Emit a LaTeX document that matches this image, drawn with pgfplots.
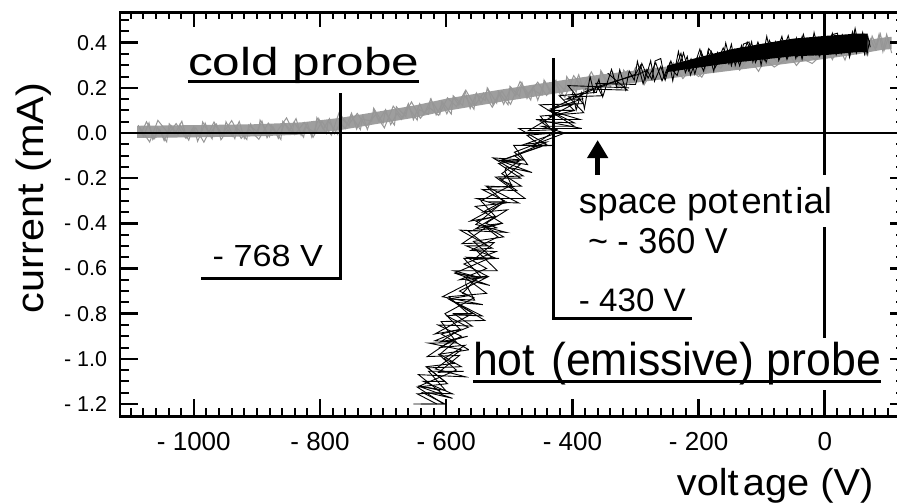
\documentclass[border=0pt]{standalone}
\usepackage{pgfplots}
\pgfplotsset{compat=1.18}
\usepackage{fontspec}
\setmainfont{Liberation Sans}
\usepackage{graphicx}
\usetikzlibrary{arrows.meta}

\definecolor{coldgray}{RGB}{150,150,150}
\definecolor{coldfill}{RGB}{158,158,158}
\newcommand\fs[1]{\fontsize{#1bp}{#1bp}\selectfont}

\begin{document}
\begin{tikzpicture}
\begin{axis}[
  scale only axis, width=779.9bp, height=403.8bp,
  xmin=-1117, xmax=119, ymin=-1.2545, ymax=0.5337,
  at={(0,0)}, anchor=south west,
  axis line style={line width=2.5bp},
  tick style={draw=none},
  xtick={-1000,-800,-600,-400,-200,0},
  xticklabels={- 1000,- 800,- 600,- 400,- 200,0},
  ytick={-1.2,-1.0,-0.8,-0.6,-0.4,-0.2,0,0.2,0.4},
  yticklabels={- 1.2,- 1.0,- 0.8,- 0.6,- 0.4,- 0.2,0.0,0.2,0.4},
  xticklabel style={font=\fs{26}, inner sep=0pt, yshift=-15.4bp},
  yticklabel style={font=\fs{21.5}, inner sep=0pt, xshift=-12.7bp},
  xlabel={\scalebox{1.06}[1]{volt\kern4bp age (V)}},
  xlabel style={font=\fs{37.5}, at={(axis description cs:0.84,-0.195)}, anchor=base, inner sep=0pt},
  ylabel={\scalebox{1.09}[1]{current (mA)}},
  ylabel style={font=\fs{38}, at={(axis description cs:-0.0983,0.5406)}, anchor=base, inner sep=0pt},
]

% ---- cold probe: body of the trace band
\addplot[draw=none, fill=coldfill] coordinates {
  (-1090,0.032) (-1000,0.035) (-900,0.039) (-830,0.047) (-768,0.067) (-725,0.087)
  (-650,0.122) (-600,0.152) (-514,0.192) (-420,0.232) (-360,0.257) (-300,0.277)
  (-200,0.312) (-100,0.347) (0,0.382) (50,0.402) (90,0.422) (106,0.426)
  (106,0.372) (90,0.368) (50,0.348) (0,0.328) (-100,0.293) (-200,0.258)
  (-300,0.223) (-360,0.203) (-420,0.178) (-514,0.138) (-600,0.098) (-650,0.068)
  (-725,0.033) (-768,0.013) (-830,-0.007) (-900,-0.015) (-1000,-0.019) (-1090,-0.022)
} -- cycle;

% ---- cold probe: sweep 1
\addplot[coldgray, line width=1bp] coordinates {
  (-1088,0.035) (-1080,-0.015) (-1071,0.045) (-1065,-0.029) (-1054,0.016) (-1047,-0.034)
  (-1036,0.032) (-1030,-0.003) (-1019,0.052) (-1011,-0.022) (-1000,0.028) (-994,-0.037)
  (-982,0.044) (-975,-0.006) (-964,0.039) (-957,-0.030) (-946,0.015) (-939,-0.015)
  (-928,0.051) (-920,-0.024) (-910,0.041) (-903,-0.008) (-892,0.053) (-884,-0.021)
  (-874,0.025) (-866,-0.024) (-856,0.042) (-849,0.008) (-838,0.064) (-830,-0.010)
  (-820,0.043) (-813,-0.019) (-802,0.064) (-795,0.016) (-785,0.064) (-777,-0.003)
  (-768,0.045) (-760,0.019) (-750,0.088) (-742,0.017) (-732,0.077) (-725,0.015)
  (-714,0.100) (-707,0.053) (-696,0.104) (-688,0.037) (-678,0.087) (-671,0.060)
  (-660,0.130) (-652,0.059) (-642,0.130) (-635,0.084) (-624,0.151) (-616,0.080)
  (-606,0.131) (-599,0.085) (-588,0.156) (-580,0.124) (-570,0.184) (-562,0.108)
  (-552,0.177) (-545,0.131) (-534,0.196) (-526,0.125) (-516,0.174) (-509,0.127)
  (-498,0.197) (-490,0.165) (-480,0.224) (-472,0.153) (-462,0.207) (-455,0.145)
  (-444,0.230) (-436,0.183) (-426,0.233) (-419,0.165) (-408,0.215) (-400,0.188)
  (-390,0.258) (-382,0.186) (-372,0.245) (-365,0.183) (-354,0.267) (-346,0.220)
  (-336,0.268) (-329,0.200) (-318,0.249) (-310,0.222) (-300,0.290) (-285,0.220)
  (-270,0.290) (-255,0.246) (-240,0.311) (-225,0.241) (-210,0.292) (-195,0.247)
  (-180,0.317) (-165,0.287) (-150,0.348) (-135,0.278) (-120,0.333) (-105,0.273)
  (-90,0.359) (-75,0.314) (-60,0.364) (-45,0.299) (-30,0.350) (-15,0.325)
  (0,0.395) (12,0.325) (22,0.384) (32,0.323) (42,0.407) (52,0.361)
  (60,0.410) (68,0.345) (75,0.429) (82,0.382) (88,0.439) (94,0.366)
  (100,0.418) (106,0.354)
};

% ---- cold probe: sweep 2
\addplot[coldgray, line width=1bp] coordinates {
  (-1084,-0.005) (-1075,0.050) (-1062,-0.024) (-1058,0.026) (-1043,-0.039) (-1039,0.041)
  (-1025,-0.008) (-1022,0.037) (-1008,-0.032) (-1003,0.013) (-990,-0.017) (-986,0.049)
  (-971,-0.026) (-967,0.039) (-953,-0.010) (-949,0.050) (-935,-0.025) (-931,0.021)
  (-916,-0.029) (-913,0.036) (-898,0.002) (-895,0.057) (-880,-0.016) (-877,0.034)
  (-862,-0.029) (-859,0.052) (-844,0.003) (-841,0.048) (-826,-0.019) (-823,0.027)
  (-808,0.002) (-805,0.068) (-790,-0.002) (-787,0.054) (-772,-0.006) (-769,0.075)
  (-754,0.031) (-751,0.078) (-736,0.015) (-733,0.061) (-718,0.053) (-715,0.110)
  (-700,0.042) (-697,0.093) (-682,0.035) (-679,0.116) (-664,0.073) (-661,0.120)
  (-646,0.057) (-643,0.104) (-628,0.083) (-625,0.150) (-610,0.084) (-607,0.141)
  (-592,0.084) (-589,0.165) (-574,0.122) (-571,0.168) (-556,0.105) (-553,0.172)
  (-538,0.144) (-535,0.200) (-520,0.132) (-517,0.184) (-502,0.125) (-499,0.207)
  (-484,0.163) (-481,0.209) (-466,0.146) (-463,0.192) (-448,0.168) (-445,0.235)
  (-430,0.166) (-427,0.232) (-412,0.188) (-409,0.250) (-394,0.181) (-391,0.227)
  (-376,0.183) (-373,0.250) (-358,0.221) (-355,0.277) (-340,0.207) (-337,0.258)
  (-322,0.198) (-319,0.279) (-304,0.234) (-301,0.280) (-286,0.215) (-283,0.261)
  (-260,0.239) (-230,0.315) (-200,0.250) (-170,0.326) (-140,0.286) (-110,0.357)
  (-80,0.292) (-50,0.348) (-20,0.308) (10,0.384) (35,0.359) (55,0.423)
  (65,0.348) (72,0.417) (80,0.371) (86,0.438) (92,0.360) (98,0.437) (104,0.379)
};

% ---- cold probe: sweep 3
\addplot[coldgray, line width=1bp] coordinates {
  (-1086,0.025) (-1070,-0.040) (-1057,0.056) (-1040,-0.003) (-1028,0.042) (-1013,-0.022)
  (-997,0.023) (-984,-0.041) (-968,0.049) (-956,-0.010) (-940,0.055) (-925,-0.024)
  (-912,0.016) (-897,-0.028) (-882,0.044) (-870,0.000) (-853,0.067) (-840,-0.007)
  (-825,0.047) (-811,-0.019) (-797,0.051) (-782,-0.010) (-770,0.089) (-755,0.036)
  (-741,0.087) (-727,0.029) (-712,0.081) (-698,0.023) (-684,0.119) (-669,0.066)
  (-655,0.138) (-641,0.065) (-627,0.114) (-612,0.078) (-598,0.156) (-584,0.117)
  (-569,0.190) (-555,0.121) (-541,0.177) (-527,0.114) (-512,0.186) (-498,0.127)
  (-483,0.228) (-470,0.174) (-455,0.225) (-441,0.166) (-427,0.217) (-412,0.158)
  (-398,0.254) (-384,0.200) (-370,0.271) (-356,0.196) (-342,0.241) (-327,0.201)
  (-313,0.276) (-300,0.235)
};

% ---- hot (emissive) probe: dense saturated part
\addplot[draw=none, fill=black] coordinates {
  (-250,0.298) (-200,0.335) (-150,0.370) (-100,0.395) (-50,0.418) (0,0.430)
  (50,0.440) (68,0.440)
  (68,0.360) (50,0.358) (0,0.345) (-50,0.340) (-100,0.325) (-150,0.310)
  (-200,0.290) (-250,0.270)
} -- cycle;

% ---- hot probe: sweep 1 (rising)
\addplot[black, line width=0.9bp] coordinates {
  (-652,-1.20) (-602,-1.20) (-637,-1.15) (-590,-1.155) (-636,-1.10) (-602,-1.10)
  (-632,-1.035) (-587,-1.02) (-604,-1.00) (-570,-0.94) (-610,-0.95) (-576,-0.90)
  (-613,-0.85) (-559,-0.855) (-588,-0.80) (-557,-0.80) (-596,-0.735) (-564,-0.72)
  (-579,-0.70) (-536,-0.64) (-579,-0.65) (-536,-0.60) (-568,-0.55) (-521,-0.555)
  (-568,-0.50) (-535,-0.50) (-565,-0.435) (-520,-0.42) (-537,-0.40) (-503,-0.34)
  (-542,-0.35) (-508,-0.30) (-543,-0.25) (-488,-0.255) (-516,-0.20) (-482,-0.20)
  (-517,-0.135) (-482,-0.12) (-492,-0.10) (-441,-0.04) (-476,-0.05) (-425,0.00)
  (-450,0.05) (-397,0.045) (-437,0.10) (-397,0.10) (-421,0.165) (-362,0.18)
  (-360,0.20) (-300,0.26)
  (-292,0.300) (-285,0.234) (-276,0.320) (-270,0.229) (-260,0.295) (-253,0.234)
  (-244,0.319) (-238,0.272) (-228,0.353) (-221,0.267) (-212,0.328) (-206,0.261)
  (-196,0.362) (-189,0.306) (-180,0.361) (-174,0.289) (-164,0.345) (-157,0.309)
  (-148,0.393) (-142,0.299) (-132,0.388) (-125,0.321) (-116,0.404) (-110,0.312)
  (-100,0.376) (-93,0.313) (-84,0.397) (-78,0.349) (-68,0.428) (-61,0.340)
  (-52,0.399) (-46,0.330) (-36,0.427) (-29,0.369) (-20,0.420) (-14,0.346)
  (-4,0.398) (3,0.359) (12,0.441) (18,0.347) (28,0.434) (35,0.366)
  (44,0.448) (50,0.354) (58,0.415) (63,0.350) (68,0.430) (72,0.380)
};

% ---- hot probe: sweep 2 (falling)
\addplot[black, line width=0.9bp] coordinates {
  (66,0.360) (60,0.445) (54,0.379) (47,0.448) (40,0.347) (33,0.421)
  (25,0.359) (16,0.432) (8,0.380) (0,0.438) (-9,0.342) (-17,0.405)
  (-26,0.353) (-34,0.437) (-43,0.340) (-51,0.389) (-60,0.326) (-69,0.408)
  (-77,0.345) (-88,0.411) (-96,0.323) (-106,0.403) (-114,0.335) (-123,0.402)
  (-135,0.297) (-143,0.369) (-152,0.306) (-161,0.377) (-170,0.322) (-184,0.374)
  (-192,0.274) (-202,0.333) (-216,0.275) (-224,0.355) (-234,0.255) (-248,0.297)
  (-258,0.231) (-268,0.311) (-280,0.243) (-290,0.308) (-300,0.215)
  (-363,0.22) (-353,0.165) (-406,0.16) (-382,0.09) (-451,0.075) (-429,0.00)
  (-472,-0.01) (-449,-0.06) (-512,-0.12) (-485,-0.125) (-512,-0.18) (-481,-0.235)
  (-535,-0.24) (-506,-0.31) (-554,-0.325) (-511,-0.40) (-541,-0.41) (-518,-0.46)
  (-561,-0.52) (-521,-0.525) (-572,-0.58) (-534,-0.635) (-570,-0.64) (-536,-0.71)
  (-596,-0.725) (-565,-0.80) (-599,-0.81) (-565,-0.86) (-618,-0.92) (-587,-0.925)
  (-610,-0.98) (-576,-1.035) (-629,-1.04) (-598,-1.11) (-646,-1.125) (-604,-1.20)
  (-640,-1.20)
};

% ---- hot probe: sweep 3 (rising)
\addplot[black, line width=0.9bp] coordinates {
  (-610,-1.14) (-642,-1.12) (-584,-1.05) (-612,-0.98) (-564,-0.96) (-608,-0.89)
  (-578,-0.87) (-602,-0.80) (-556,-0.73) (-574,-0.71) (-551,-0.64) (-586,-0.62)
  (-528,-0.55) (-557,-0.48) (-509,-0.46) (-553,-0.39) (-522,-0.37) (-545,-0.30)
  (-496,-0.23) (-512,-0.21) (-483,-0.14) (-512,-0.12) (-441,-0.05) (-485,0.02)
  (-385,0.02) (-458,0.06) (-388,0.06) (-437,0.10) (-386,0.15) (-410,0.15)
  (-355,0.21) (-295,0.26) (-280,0.28)
};

% ---- hot probe: sweep 4 (rising)
\addplot[black, line width=0.9bp] coordinates {
  (-629,-1.150) (-590,-1.175) (-645,-1.120) (-601,-1.140) (-628,-1.055) (-572,-1.055)
  (-612,-1.060) (-579,-0.985) (-630,-0.990) (-593,-0.920) (-566,-0.900) (-609,-0.925)
  (-578,-0.870) (-618,-0.890) (-562,-0.805) (-590,-0.805) (-543,-0.810) (-596,-0.735)
  (-555,-0.740) (-569,-0.670) (-569,-0.650) (-531,-0.675) (-587,-0.620) (-544,-0.640)
  (-572,-0.555) (-516,-0.555) (-556,-0.560) (-524,-0.485) (-575,-0.490) (-538,-0.420)
  (-511,-0.400) (-554,-0.425) (-522,-0.370) (-562,-0.390) (-506,-0.305) (-533,-0.305)
  (-485,-0.310) (-537,-0.235) (-495,-0.240) (-507,-0.170) (-505,-0.150) (-464,-0.175)
  (-517,-0.120) (-471,-0.140) (-493,-0.055) (-430,-0.055) (-464,-0.060) (-425,0.015)
  (-470,0.010) (-428,0.080) (-396,0.100) (-434,0.075) (-397,0.130) (-432,0.110)
  (-365,0.195) (-380,0.195) (-313,0.190) (-344,0.265)
};

% ---- hot probe: sweep 5 (rising, saturated part)
\addplot[black, line width=0.9bp] coordinates {
  (-400,0.180) (-394,0.102) (-386,0.178) (-381,0.108) (-372,0.250) (-366,0.179)
  (-358,0.238) (-352,0.160) (-344,0.230) (-338,0.282) (-330,0.205) (-325,0.280)
  (-316,0.192) (-310,0.275) (-302,0.234) (-297,0.317) (-288,0.218) (-282,0.281)
  (-274,0.236) (-269,0.319) (-260,0.330) (-254,0.243) (-246,0.308) (-241,0.231)
  (-232,0.361) (-226,0.285) (-218,0.339) (-213,0.257) (-204,0.322) (-198,0.371)
  (-190,0.290) (-185,0.363) (-176,0.273) (-170,0.357) (-162,0.316) (-157,0.399)
  (-148,0.298) (-142,0.359) (-134,0.312) (-129,0.394) (-120,0.403) (-114,0.315)
  (-106,0.378) (-101,0.300) (-92,0.428) (-86,0.351) (-78,0.404) (-73,0.321)
  (-64,0.384) (-58,0.431) (-50,0.349) (-45,0.420) (-36,0.327) (-30,0.408)
  (-22,0.365) (-17,0.445) (-8,0.342) (-2,0.403) (6,0.354) (11,0.435)
  (20,0.442) (26,0.353) (34,0.415) (39,0.336) (48,0.463) (54,0.384)
  (62,0.435) (67,0.350) (71,0.410)
};

% ---- hot probe: sweep 6 (falling)
\addplot[black, line width=0.9bp] coordinates {
  (-310,0.20) (-407,0.21) (-383,0.13) (-452,0.125) (-397,0.03) (-449,0.03)
  (-412,0.00) (-492,-0.085) (-477,-0.12) (-526,-0.11) (-478,-0.19) (-522,-0.195)
  (-475,-0.29) (-552,-0.29) (-516,-0.32) (-553,-0.405) (-505,-0.44) (-578,-0.43)
  (-527,-0.51) (-554,-0.515) (-519,-0.61) (-588,-0.61) (-547,-0.64) (-606,-0.725)
  (-542,-0.76) (-585,-0.75) (-539,-0.83) (-608,-0.835) (-583,-0.93) (-628,-0.93)
  (-576,-0.96) (-617,-1.045) (-569,-1.08) (-644,-1.07) (-608,-1.15) (-646,-1.155)
  (-615,-1.20)
};

% ---- zero lines and floating-potential markers
\draw[line width=2.7bp] (axis cs:-1117,0) -- (axis cs:119,0);
\draw[line width=2.7bp] (axis cs:0,-1.2545) -- (axis cs:0,0.5337);
\draw[line width=2.7bp] (axis cs:-768,0.177) -- (axis cs:-768,-0.643) -- (axis cs:-988,-0.643);
\draw[line width=2.7bp] (axis cs:-430,0.331) -- (axis cs:-430,-0.821) -- (axis cs:-211,-0.821);
\draw[line width=5bp, -{Triangle[length=18bp,width=20bp]}] (axis cs:-360,-0.239) -- (axis cs:-360,-0.031);

% ---- annotations
\fill[white] (axis cs:-396.2,-0.186) rectangle (axis cs:19.0,-0.416);
\fill[white] (axis cs:-564.2,-0.908) rectangle (axis cs:95.1,-1.138);

\node[anchor=base west, inner sep=0pt, font=\fs{39}] at (axis cs:-1009.5,0.2569)
  {\scalebox{1.27}[1]{cold probe}};
\draw[line width=3bp] (axis cs:-1009.5,0.2272) -- (axis cs:-643.4,0.2272);

\node[anchor=base west, inner sep=0pt, font=\fs{46}] at (axis cs:-557.8,-1.0717)
  {\scalebox{0.97}[1]{hot\kern4bp\ (emissive) probe}};
\draw[line width=3bp] (axis cs:-557.8,-1.0983) -- (axis cs:89.5,-1.0983);

\node[anchor=base west, inner sep=0pt, font=\fs{36}] at (axis cs:-389.9,-0.3543)
  {\scalebox{1.02}[1]{space pot\kern3bp ent\kern3bp ial}};
\node[anchor=base west, inner sep=0pt, font=\fs{36}] at (axis cs:-375.6,-0.5314)
  {\scalebox{0.95}[1]{\textasciitilde\ - 360 V}};

\node[anchor=base west, inner sep=0pt, font=\fs{30.5}] at (axis cs:-970.4,-0.5921)
  {\scalebox{1.12}[1]{- 768 V}};
\node[anchor=base west, inner sep=0pt, font=\fs{32.5}] at (axis cs:-389.9,-0.7914)
  {\scalebox{1.02}[1]{- 430 V}};
\end{axis}

% ---- tick marks on the frame, all pointing inward (units: bp from the lower left corner)
\begin{scope}[x=1bp, y=1bp, line cap=butt]
  % bottom, minor (every 20 V)
  \draw[line width=2bp]
    (10.73,0)--(10.73,8.5) (23.35,0)--(23.35,8.5) (35.97,0)--(35.97,8.5) (48.59,0)--(48.59,8.5)
    (61.21,0)--(61.21,8.5) (86.45,0)--(86.45,8.5) (99.07,0)--(99.07,8.5) (111.69,0)--(111.69,8.5)
    (124.30,0)--(124.30,8.5) (136.92,0)--(136.92,8.5) (149.54,0)--(149.54,8.5) (162.16,0)--(162.16,8.5)
    (174.78,0)--(174.78,8.5) (187.40,0)--(187.40,8.5) (212.64,0)--(212.64,8.5) (225.26,0)--(225.26,8.5)
    (237.88,0)--(237.88,8.5) (250.50,0)--(250.50,8.5) (263.12,0)--(263.12,8.5) (275.74,0)--(275.74,8.5)
    (288.36,0)--(288.36,8.5) (300.98,0)--(300.98,8.5) (313.60,0)--(313.60,8.5) (338.84,0)--(338.84,8.5)
    (351.46,0)--(351.46,8.5) (364.08,0)--(364.08,8.5) (376.70,0)--(376.70,8.5) (389.32,0)--(389.32,8.5)
    (401.94,0)--(401.94,8.5) (414.56,0)--(414.56,8.5) (427.18,0)--(427.18,8.5) (439.80,0)--(439.80,8.5)
    (465.04,0)--(465.04,8.5) (477.66,0)--(477.66,8.5) (490.28,0)--(490.28,8.5) (502.90,0)--(502.90,8.5)
    (515.52,0)--(515.52,8.5) (528.14,0)--(528.14,8.5) (540.76,0)--(540.76,8.5) (553.37,0)--(553.37,8.5)
    (565.99,0)--(565.99,8.5) (591.23,0)--(591.23,8.5) (603.85,0)--(603.85,8.5) (616.47,0)--(616.47,8.5)
    (629.09,0)--(629.09,8.5) (641.71,0)--(641.71,8.5) (654.33,0)--(654.33,8.5) (666.95,0)--(666.95,8.5)
    (679.57,0)--(679.57,8.5) (692.19,0)--(692.19,8.5) (717.43,0)--(717.43,8.5) (730.05,0)--(730.05,8.5)
    (742.67,0)--(742.67,8.5) (755.29,0)--(755.29,8.5) (767.91,0)--(767.91,8.5);
  % top, minor
  \draw[line width=2bp]
    (10.73,403.8)--(10.73,396.8) (23.35,403.8)--(23.35,396.8) (35.97,403.8)--(35.97,396.8) (48.59,403.8)--(48.59,396.8)
    (61.21,403.8)--(61.21,396.8) (86.45,403.8)--(86.45,396.8) (99.07,403.8)--(99.07,396.8) (111.69,403.8)--(111.69,396.8)
    (124.30,403.8)--(124.30,396.8) (136.92,403.8)--(136.92,396.8) (149.54,403.8)--(149.54,396.8) (162.16,403.8)--(162.16,396.8)
    (174.78,403.8)--(174.78,396.8) (187.40,403.8)--(187.40,396.8) (212.64,403.8)--(212.64,396.8) (225.26,403.8)--(225.26,396.8)
    (237.88,403.8)--(237.88,396.8) (250.50,403.8)--(250.50,396.8) (263.12,403.8)--(263.12,396.8) (275.74,403.8)--(275.74,396.8)
    (288.36,403.8)--(288.36,396.8) (300.98,403.8)--(300.98,396.8) (313.60,403.8)--(313.60,396.8) (338.84,403.8)--(338.84,396.8)
    (351.46,403.8)--(351.46,396.8) (364.08,403.8)--(364.08,396.8) (376.70,403.8)--(376.70,396.8) (389.32,403.8)--(389.32,396.8)
    (401.94,403.8)--(401.94,396.8) (414.56,403.8)--(414.56,396.8) (427.18,403.8)--(427.18,396.8) (439.80,403.8)--(439.80,396.8)
    (465.04,403.8)--(465.04,396.8) (477.66,403.8)--(477.66,396.8) (490.28,403.8)--(490.28,396.8) (502.90,403.8)--(502.90,396.8)
    (515.52,403.8)--(515.52,396.8) (528.14,403.8)--(528.14,396.8) (540.76,403.8)--(540.76,396.8) (553.37,403.8)--(553.37,396.8)
    (565.99,403.8)--(565.99,396.8) (591.23,403.8)--(591.23,396.8) (603.85,403.8)--(603.85,396.8) (616.47,403.8)--(616.47,396.8)
    (629.09,403.8)--(629.09,396.8) (641.71,403.8)--(641.71,396.8) (654.33,403.8)--(654.33,396.8) (666.95,403.8)--(666.95,396.8)
    (679.57,403.8)--(679.57,396.8) (692.19,403.8)--(692.19,396.8) (717.43,403.8)--(717.43,396.8) (730.05,403.8)--(730.05,396.8)
    (742.67,403.8)--(742.67,396.8) (755.29,403.8)--(755.29,396.8) (767.91,403.8)--(767.91,396.8);
  % bottom and top, major (every 200 V)
  \draw[line width=2.5bp]
    (73.83,0)--(73.83,17.5) (200.02,0)--(200.02,17.5) (326.22,0)--(326.22,17.5)
    (452.42,0)--(452.42,17.5) (578.61,0)--(578.61,17.5) (704.81,0)--(704.81,17.5)
    (73.83,403.8)--(73.83,388.8) (200.02,403.8)--(200.02,388.8) (326.22,403.8)--(326.22,388.8)
    (452.42,403.8)--(452.42,388.8) (578.61,403.8)--(578.61,388.8) (704.81,403.8)--(704.81,388.8);
  % left and right, minor (every 0.05 mA)
  \draw[line width=2bp]
    (0,23.60)--(8.5,23.60) (0,34.89)--(8.5,34.89) (0,46.18)--(8.5,46.18) (0,68.76)--(8.5,68.76)
    (0,80.05)--(8.5,80.05) (0,91.34)--(8.5,91.34) (0,113.92)--(8.5,113.92) (0,125.21)--(8.5,125.21)
    (0,136.50)--(8.5,136.50) (0,159.08)--(8.5,159.08) (0,170.37)--(8.5,170.37) (0,181.66)--(8.5,181.66)
    (0,204.24)--(8.5,204.24) (0,215.53)--(8.5,215.53) (0,226.82)--(8.5,226.82) (0,249.41)--(8.5,249.41)
    (0,260.70)--(8.5,260.70) (0,271.99)--(8.5,271.99) (0,294.57)--(8.5,294.57) (0,305.86)--(8.5,305.86)
    (0,317.15)--(8.5,317.15) (0,339.73)--(8.5,339.73) (0,351.02)--(8.5,351.02) (0,362.31)--(8.5,362.31)
    (0,384.89)--(8.5,384.89) (0,396.18)--(8.5,396.18)
    (779.9,23.60)--(776.4,23.60) (779.9,34.89)--(776.4,34.89) (779.9,46.18)--(776.4,46.18) (779.9,68.76)--(776.4,68.76)
    (779.9,80.05)--(776.4,80.05) (779.9,91.34)--(776.4,91.34) (779.9,113.92)--(776.4,113.92) (779.9,125.21)--(776.4,125.21)
    (779.9,136.50)--(776.4,136.50) (779.9,159.08)--(776.4,159.08) (779.9,170.37)--(776.4,170.37) (779.9,181.66)--(776.4,181.66)
    (779.9,204.24)--(776.4,204.24) (779.9,215.53)--(776.4,215.53) (779.9,226.82)--(776.4,226.82) (779.9,249.41)--(776.4,249.41)
    (779.9,260.70)--(776.4,260.70) (779.9,271.99)--(776.4,271.99) (779.9,294.57)--(776.4,294.57) (779.9,305.86)--(776.4,305.86)
    (779.9,317.15)--(776.4,317.15) (779.9,339.73)--(776.4,339.73) (779.9,351.02)--(776.4,351.02) (779.9,362.31)--(776.4,362.31)
    (779.9,384.89)--(776.4,384.89) (779.9,396.18)--(776.4,396.18);
  % left and right, major (every 0.2 mA)
  \draw[line width=2.5bp]
    (0,12.31)--(17.5,12.31) (0,57.47)--(17.5,57.47) (0,102.63)--(17.5,102.63) (0,147.79)--(17.5,147.79)
    (0,192.95)--(17.5,192.95) (0,238.12)--(17.5,238.12) (0,283.28)--(17.5,283.28) (0,328.44)--(17.5,328.44)
    (0,373.60)--(17.5,373.60)
    (779.9,12.31)--(769.9,12.31) (779.9,57.47)--(769.9,57.47) (779.9,102.63)--(769.9,102.63) (779.9,147.79)--(769.9,147.79)
    (779.9,192.95)--(769.9,192.95) (779.9,238.12)--(769.9,238.12) (779.9,283.28)--(769.9,283.28) (779.9,328.44)--(769.9,328.44)
    (779.9,373.60)--(769.9,373.60);
\end{scope}

\pgfresetboundingbox
\path (-120bp,-86.7bp) rectangle (777bp,416.3bp);
\end{tikzpicture}
\end{document}
